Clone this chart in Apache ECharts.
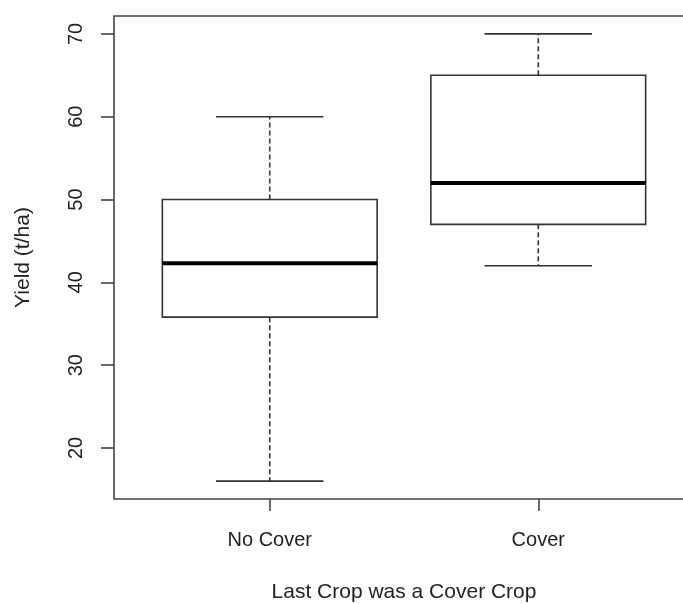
<!DOCTYPE html>
<html>
<head>
<meta charset="utf-8">
<script src="https://cdn.jsdelivr.net/npm/echarts@6/dist/echarts.min.js"></script>
<style>
  html, body { margin: 0; padding: 0; background: #fff; }
  #chart { width: 683px; height: 604px; }
</style>
</head>
<body>
<div id="chart"></div>
<script>
// Yield by whether the last crop was a cover crop
const categories = ['No Cover', 'Cover'];
const lowerWhisker = [16, 42];
const lowerQuartile = [35.8, 47];
const medians = [42.3, 52];
const upperQuartile = [50, 65];
const upperWhisker = [60, 70];
const yTicks = [20, 30, 40, 50, 60, 70];

const boxData = categories.map((c, i) => [
  i + 1, lowerWhisker[i], lowerQuartile[i], medians[i], upperQuartile[i], upperWhisker[i]
]);

const FONT = 'Liberation Sans, Arial, sans-serif';
const INK = '#222';
const BOX_W = 0.8;     // box width in x units
const CAP_W = 0.4;     // whisker cap width in x units

function renderBox(params, api) {
  const x = api.value(0);
  const lo = api.coord([x, api.value(1)]);
  const q1 = api.coord([x, api.value(2)]);
  const md = api.coord([x, api.value(3)]);
  const q3 = api.coord([x, api.value(4)]);
  const hi = api.coord([x, api.value(5)]);
  const half = api.size([BOX_W, 0])[0] / 2;
  const capHalf = api.size([CAP_W, 0])[0] / 2;
  const cx = lo[0];
  const solid = { stroke: '#333', lineWidth: 1.6, fill: null };
  const dashed = { stroke: '#333', lineWidth: 1.6, lineDash: [5, 3] };
  return {
    type: 'group',
    children: [
      { type: 'line', shape: { x1: cx, y1: q3[1], x2: cx, y2: hi[1] }, style: dashed },
      { type: 'line', shape: { x1: cx, y1: q1[1], x2: cx, y2: lo[1] }, style: dashed },
      { type: 'line', shape: { x1: cx - capHalf, y1: hi[1], x2: cx + capHalf, y2: hi[1] }, style: solid },
      { type: 'line', shape: { x1: cx - capHalf, y1: lo[1], x2: cx + capHalf, y2: lo[1] }, style: solid },
      { type: 'rect', shape: { x: cx - half, y: q3[1], width: half * 2, height: q1[1] - q3[1] },
        style: { stroke: '#333', lineWidth: 1.6, fill: '#fff' } },
      { type: 'line', shape: { x1: cx - half, y1: md[1], x2: cx + half, y2: md[1] },
        style: { stroke: '#000', lineWidth: 4 } }
    ]
  };
}

const chart = echarts.init(document.getElementById('chart'), null, { renderer: 'canvas' });
chart.setOption({
  animation: false,
  backgroundColor: '#fff',
  grid: {
    left: 114, top: 16, width: 580, height: 483,
    outerBoundsMode: 'none', containLabel: false,
    show: true, borderColor: '#444', borderWidth: 1.6, backgroundColor: 'transparent'
  },
  xAxis: {
    type: 'value', min: 0.42, max: 2.58,
    name: 'Last Crop was a Cover Crop',
    nameLocation: 'middle', nameGap: 83,
    nameTextStyle: { fontFamily: FONT, fontSize: 21, color: INK },
    splitLine: { show: false },
    axisLine: { show: false },
    axisTick: { show: true, length: 12, inside: false, customValues: [1, 2],
      lineStyle: { color: '#444', width: 1.6 } },
    axisLabel: { show: true, margin: 31, customValues: [1, 2],
      fontFamily: FONT, fontSize: 20, color: INK,
      formatter: v => categories[Math.round(v) - 1] || '' }
  },
  yAxis: {
    type: 'value', min: 13.84, max: 72.16,
    name: 'Yield (t/ha)',
    nameLocation: 'middle', nameGap: 80, nameRotate: 90,
    nameTextStyle: { fontFamily: FONT, fontSize: 21, color: INK },
    splitLine: { show: false },
    axisLine: { show: false },
    axisTick: { show: true, length: 13, inside: false, customValues: yTicks,
      lineStyle: { color: '#444', width: 1.6 } },
    axisLabel: { show: true, rotate: 90, margin: 28, customValues: yTicks,
      fontFamily: FONT, fontSize: 20, color: INK }
  },
  series: [{
    type: 'custom',
    renderItem: renderBox,
    encode: { x: 0, y: [1, 2, 3, 4, 5] },
    data: boxData,
    clip: false
  }]
});
</script>
</body>
</html>
